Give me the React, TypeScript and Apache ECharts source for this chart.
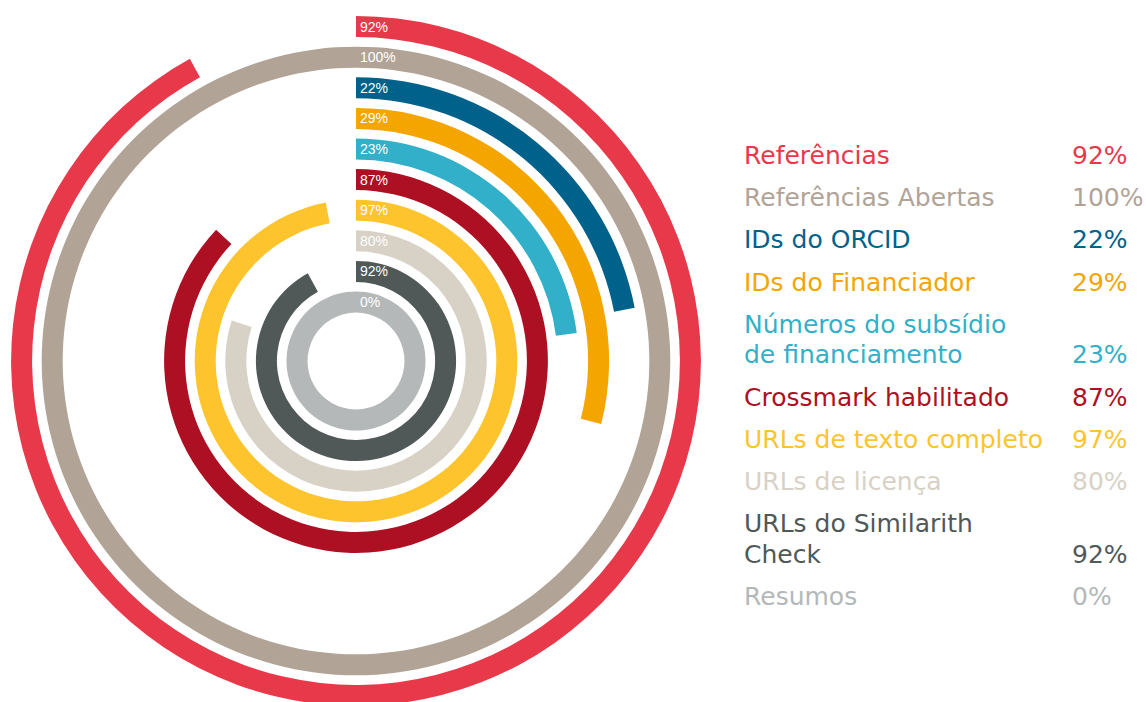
import React, { useEffect, useRef } from "react";
import * as echarts from "echarts";

// Data (outer ring first, same order as the legend)
const categories = [
  "Referências",
  "Referências Abertas",
  "IDs do ORCID",
  "IDs do Financiador",
  "Números do subsídio\nde financiamento",
  "Crossmark habilitado",
  "URLs de texto completo",
  "URLs de licença",
  "URLs do Similarith\nCheck",
  "Resumos",
];
const values = [92, 100, 22, 29, 23, 87, 97, 80, 92, 0];
const colors = [
  "#e8394a",
  "#b1a497",
  "#00628b",
  "#f5a500",
  "#33b0c9",
  "#ad1022",
  "#fdc42e",
  "#d8d1c5",
  "#505858",
  "#b4b8b8",
];
// category whose ring is shown as a full grey track
const trackCategory = "Resumos";

const fmt = (v: number) => `${v}%`;

export default function App() {
  const ref = useRef<HTMLDivElement>(null);

  useEffect(() => {
    document.body.style.margin = "0";
    if (!ref.current) return;
    const chart = echarts.init(ref.current, null, { renderer: "svg" });

    // radius axis goes from inside to outside
    const radCats = [...categories].reverse();
    const radVals = [...values].reverse();
    const radColors = [...colors].reverse();
    const trackIdx = radCats.indexOf(trackCategory);

    // legend texts
    const legendEls: any[] = [];
    const nameX = 744;
    const valX = 1072;
    const paraStep = 42.2;
    const lineStep = 30.5;
    const fs = 25;
    const mid = 0.35 * fs;
    let baseline = 164.3;
    categories.forEach((name, i) => {
      const lines = name.split("\n");
      lines.forEach((ln, li) => {
        if (li > 0) baseline += lineStep;
        legendEls.push({
          type: "text",
          x: nameX,
          y: baseline - mid,
          style: {
            text: ln,
            fill: colors[i],
            fontSize: fs,
            fontFamily: "DejaVu Sans",
            verticalAlign: "middle",
            align: "left",
          },
        });
      });
      legendEls.push({
        type: "text",
        x: valX,
        y: baseline - mid,
        style: {
          text: fmt(values[i]),
          fill: colors[i],
          fontSize: fs,
          fontFamily: "DejaVu Sans",
          verticalAlign: "middle",
          align: "left",
        },
      });
      baseline += paraStep;
    });

    chart.setOption({
      animation: false,
      polar: { center: [356, 361], radius: [43.7, 349.7] },
      angleAxis: {
        type: "value",
        min: 0,
        max: 100,
        startAngle: 90,
        clockwise: true,
        show: false,
      },
      radiusAxis: {
        type: "category",
        data: radCats,
        z: 10,
        axisLine: { show: false },
        axisTick: { show: false },
        splitLine: { show: false },
        axisLabel: {
          interval: 0,
          margin: -4,
          align: "left",
          color: "#ffffff",
          fontSize: 14,
          fontFamily: "Liberation Sans",
          formatter: (_v: string, idx: number) => fmt(radVals[idx]),
        },
      },
      series: [
        {
          type: "bar",
          coordinateSystem: "polar",
          stack: "rings",
          barWidth: 21,
          data: radVals.map((v, i) => ({
            value: v,
            itemStyle: { color: radColors[i] },
          })),
        },
        {
          type: "bar",
          coordinateSystem: "polar",
          stack: "rings",
          barWidth: 21,
          showBackground: true,
          backgroundStyle: { color: radColors[trackIdx] },
          data: [[trackIdx, radVals[trackIdx]]],
        },
      ],
      graphic: legendEls,
    });

    return () => chart.dispose();
  }, []);

  return <div ref={ref} style={{ width: 1146, height: 702 }} />;
}
